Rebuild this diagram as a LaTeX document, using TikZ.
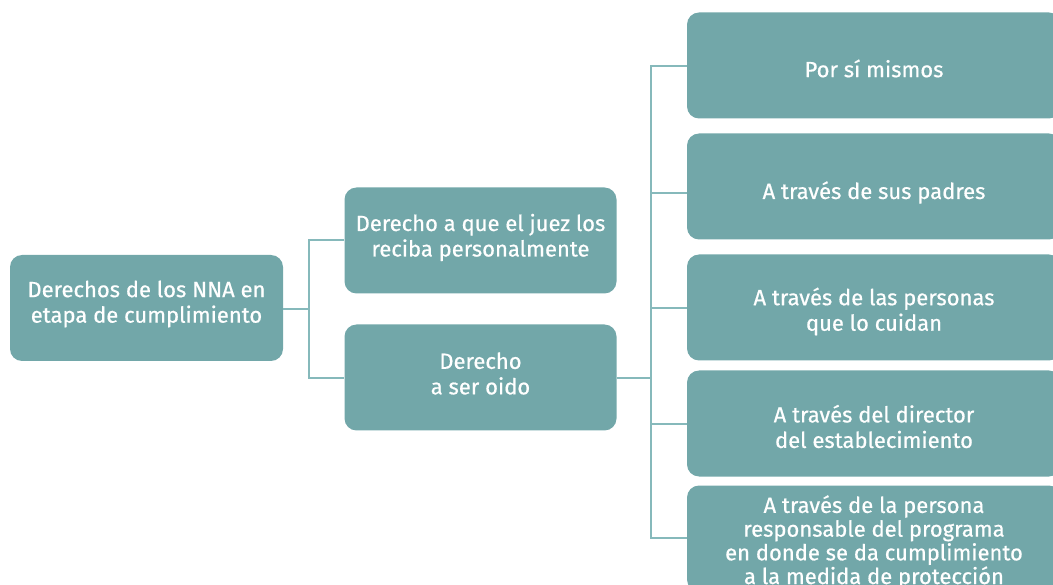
\documentclass[tikz,border=0pt]{standalone}
\usepackage{fontspec}
\setmainfont{Fira Sans}[FakeBold=0.6]
\definecolor{boxfill}{HTML}{72A7A9}
\definecolor{linecol}{HTML}{86B9BB}
\begin{document}
\begin{tikzpicture}[x=1pt,y=-1pt,
  box/.style={fill=boxfill, rounded corners=12pt, inner sep=0pt, minimum height=106pt},
  lbl/.style={inner sep=0pt, text=white, align=center, font=\fontsize{22}{25.5}\selectfont},
  conn/.style={draw=linecol, line width=1.4pt}]
\useasboundingbox (0,0) rectangle (1053,585);
\clip (0,0) rectangle (1053,585);
\node[box, minimum width=273pt] (root) at (146.5,308) {};
\node[box, minimum width=272pt] (juez) at (480.5,240.5) {};
\node[box, minimum width=272pt] (oido) at (480.5,377.5) {};
\node[box, minimum width=374pt] (r1) at (874,65.5) {};
\node[box, minimum width=374pt] (r2) at (874,186.5) {};
\node[box, minimum width=374pt] (r3) at (874,307.5) {};
\node[box, minimum width=374pt] (r4) at (874,423.5) {};
\node[box, minimum width=374pt] (r5) at (874,538.5) {};
\node[lbl, yshift=4pt] (troot) at (root.center) {Derechos de los NNA en\\etapa de cumplimiento};
\node[lbl, yshift=3pt] (tjuez) at (juez.center) {Derecho a que el juez los\\reciba personalmente};
\node[lbl, yshift=4pt] (toido) at (oido.center) {Derecho\\a ser oido};
\node[lbl, yshift=-3pt] (tr1) at (r1.center) {Por sí mismos};
\node[lbl, yshift=-6pt] (tr2) at (r2.center) {A través de sus padres};
\node[lbl, yshift=-4pt] (tr3) at (r3.center) {A través de las personas\\que lo cuidan};
\node[lbl, yshift=-3pt] (tr4) at (r4.center) {A través del director\\del establecimiento};
\node[lbl, yshift=-3.5pt, font=\fontsize{22}{23.7}\selectfont] (tr5) at (r5.center) {A través de la persona\\responsable del programa\\en donde se da cumplimiento\\a la medida de protección};
\coordinate (j1) at (309,309);
\coordinate (j2) at (651,378);
\draw[conn] (root.east |- j1) -- (j1);
\draw[conn] (juez.west |- 0,240) -| (j1) |- (oido.west |- 0,378);
\draw[conn] (oido.east |- j2) -- (j2);
\draw[conn] (r1.west |- 0,66) -| (j2 |- 0,66) -- (j2 |- 0,538) -- (r5.west |- 0,538);
\draw[conn] (j2 |- 0,193) -- (r2.west |- 0,193);
\draw[conn] (j2 |- 0,308) -- (r3.west |- 0,308);
\draw[conn] (j2 |- 0,424) -- (r4.west |- 0,424);
\end{tikzpicture}
\end{document}
